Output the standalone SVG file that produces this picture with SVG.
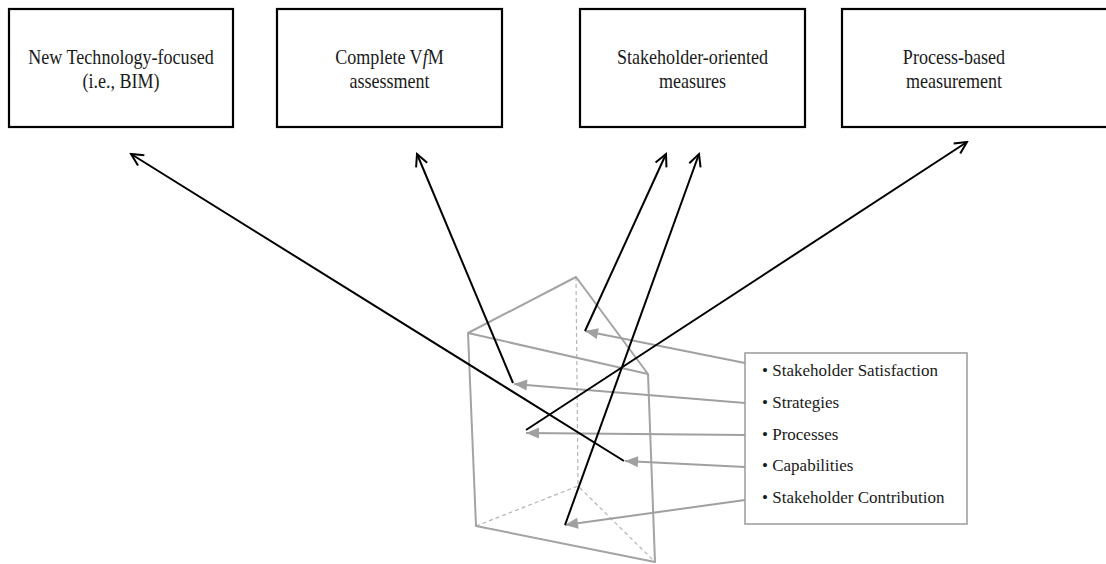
<svg xmlns="http://www.w3.org/2000/svg" width="1106" height="564" viewBox="0 0 1106 564">
  <style>
    .box { fill: #ffffff; stroke: #000000; stroke-width: 2.2; }
    .label { font-family: "Liberation Serif", "Times New Roman", serif; font-size: 21px; fill: #1a1a1a; text-anchor: middle; }
    .item { font-family: "Liberation Serif", "Times New Roman", serif; font-size: 17px; fill: #1a1a1a; }
    .list { fill: #ffffff; stroke: #a0a0a0; stroke-width: 1.6; }
    .edge { fill: none; stroke: #a3a3a3; stroke-width: 2; stroke-linejoin: round; }
    .hidden { fill: none; stroke: #b5b5b5; stroke-width: 1.2; stroke-dasharray: 4 3; }
    .out { fill: none; stroke: #000000; stroke-width: 2; marker-end: url(#open); }
    .in { fill: none; stroke: #a0a0a0; stroke-width: 2; marker-end: url(#solid); }
  </style>
  <defs>
    <marker id="open" markerUnits="userSpaceOnUse" viewBox="-14 -8 16 16" refX="0" refY="0" markerWidth="16" markerHeight="16" orient="auto">
      <path d="M -12 -6 L 0 0 L -12 6" fill="none" stroke="#000000" stroke-width="2"/>
    </marker>
    <marker id="solid" markerUnits="userSpaceOnUse" viewBox="-14 -8 16 16" refX="0" refY="0" markerWidth="16" markerHeight="16" orient="auto">
      <path d="M 0 0 L -13 -5.5 L -13 5.5 Z" fill="#a0a0a0"/>
    </marker>
  </defs>

  <rect width="1106" height="564" fill="#ffffff"/>

  <!-- outcome boxes (labels use a condensed serif: tall glyphs, narrow set) -->
  <g id="box-technology">
    <rect class="box" x="9" y="9" width="224" height="118"/>
    <g transform="translate(121 0) scale(0.86 1)">
      <text class="label" x="0" y="64">New Technology-focused</text>
      <text class="label" x="0" y="88">(i.e., BIM)</text>
    </g>
  </g>
  <g id="box-vfm">
    <rect class="box" x="277" y="9" width="225" height="118"/>
    <g transform="translate(389.5 0) scale(0.86 1)">
      <text class="label" x="0" y="64">Complete V<tspan font-style="italic">f</tspan>M</text>
      <text class="label" x="0" y="88">assessment</text>
    </g>
  </g>
  <g id="box-stakeholder">
    <rect class="box" x="580" y="9" width="225" height="118"/>
    <g transform="translate(692.5 0) scale(0.86 1)">
      <text class="label" x="0" y="64">Stakeholder-oriented</text>
      <text class="label" x="0" y="88">measures</text>
    </g>
  </g>
  <g id="box-process">
    <rect class="box" x="842" y="9" width="280" height="118"/>
    <g transform="translate(954 0) scale(0.86 1)">
      <text class="label" x="0" y="64">Process-based</text>
      <text class="label" x="0" y="88">measurement</text>
    </g>
  </g>

  <!-- triangular prism -->
  <g id="prism">
    <path class="hidden" d="M 576 277 L 578 486"/>
    <path class="hidden" d="M 476 526 L 578 486 L 655 562"/>
    <path class="edge" d="M 468 333 L 576 277 L 648 374 Z"/>
    <path class="edge" d="M 468 333 L 476 526 L 655 562 L 648 374"/>
  </g>

  <!-- dimension list -->
  <g id="dimensions">
    <rect class="list" x="745" y="353" width="222" height="171"/>
    <text class="item" x="762" y="376">• Stakeholder Satisfaction</text>
    <text class="item" x="762" y="408">• Strategies</text>
    <text class="item" x="762" y="440">• Processes</text>
    <text class="item" x="762" y="471">• Capabilities</text>
    <text class="item" x="762" y="503">• Stakeholder Contribution</text>
  </g>

  <!-- connectors -->
  <g id="connectors">
    <line class="in" x1="745" y1="363" x2="585" y2="331"/>
    <line class="in" x1="745" y1="403" x2="514" y2="384"/>
    <line class="in" x1="745" y1="435" x2="526" y2="433"/>
    <line class="in" x1="745" y1="467" x2="625" y2="461"/>
    <line class="in" x1="745" y1="500" x2="565" y2="525"/>

    <line class="out" x1="624" y1="461" x2="131" y2="154"/>
    <line class="out" x1="513" y1="383" x2="417" y2="154"/>
    <line class="out" x1="585" y1="331" x2="666" y2="154"/>
    <line class="out" x1="565" y1="525" x2="699" y2="154"/>
    <line class="out" x1="526" y1="430" x2="967" y2="142"/>
  </g>
</svg>
